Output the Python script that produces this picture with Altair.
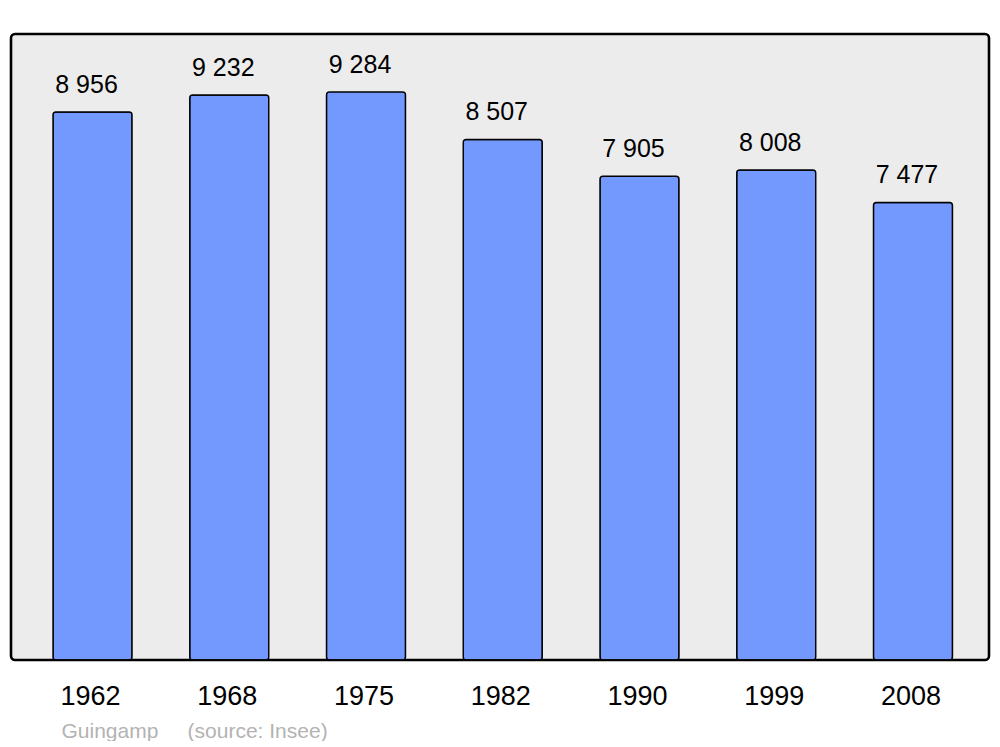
import altair as alt
import pandas as pd

years = ["1962", "1968", "1975", "1982", "1990", "1999", "2008"]
population = [8956, 9232, 9284, 8507, 7905, 8008, 7477]
labels = [f"{v:,}".replace(",", " ") for v in population]

df = pd.DataFrame({"year": years, "pop": population, "label": labels})

FONT = "Liberation Sans"

x = alt.X(
    "year:N",
    sort=years,
    scale=alt.Scale(paddingInner=0.422, paddingOuter=0.287, align=0.535),
    axis=alt.Axis(
        title="Guingamp\u00a0\u00a0\u00a0\u00a0 (source: Insee)",
        titleX=50,
        titleY=77,
        titleAlign="left",
        titleAnchor="start",
        titleBaseline="alphabetic",
        titleColor="#b3b3b3",
        titleFontWeight="normal",
        titleFontSize=21,
        titleFont=FONT,
        labelAngle=0,
        labelFontSize=27,
        labelFont=FONT,
        labelColor="black",
        labelBaseline="alphabetic",
        labelPadding=44,
        labelOffset=-2,
        ticks=False,
        tickSize=0,
        domain=False,
        grid=False,
    ),
)
y = alt.Y("pop:Q", scale=alt.Scale(domain=[0, 10230], nice=False, zero=True), axis=None)

bars = alt.Chart(df).mark_bar(
    color="#7399ff", stroke="black", strokeWidth=1.4, cornerRadius=3
).encode(x=x, y=y)

text = alt.Chart(df).mark_text(
    font=FONT, fontSize=25, color="black", baseline="alphabetic", dy=-19, dx=-6
).encode(x=x, y=y, text="label:N")

chart = (
    (bars + text)
    .properties(width=978, height=626, padding={"left": 3, "top": 26, "right": 3, "bottom": 0})
    .configure(background="white")
    .configure_view(fill="#ececec", stroke="black", strokeWidth=2.6, cornerRadius=4)
)

chart.save("out.html", embed_options={"renderer": "svg", "actions": False})
